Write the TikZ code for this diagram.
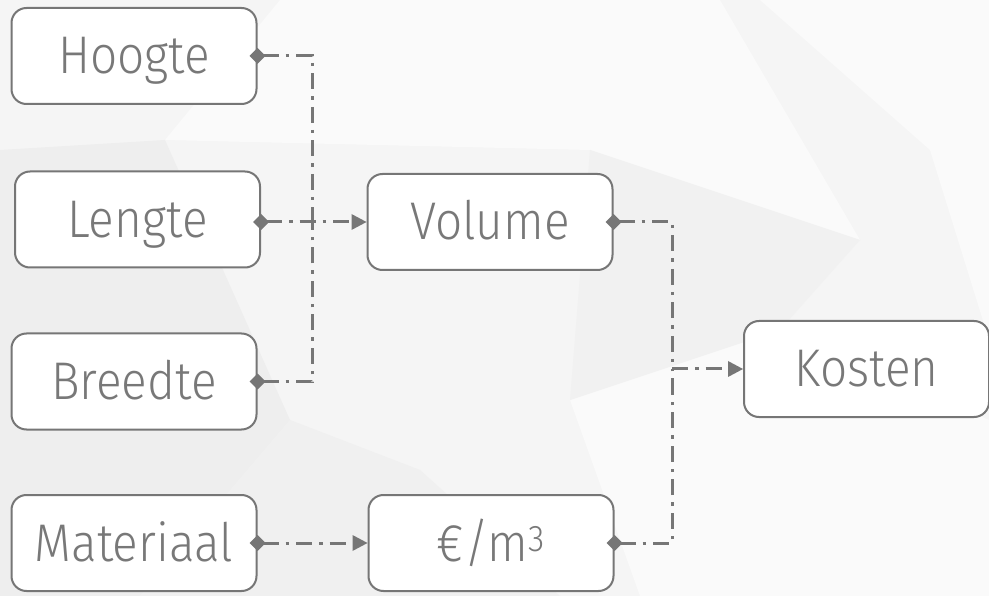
\documentclass[tikz,border=0pt]{standalone}
\usepackage{fontspec}
\setmainfont{Fira Sans Light}[FakeStretch=0.9]
\usetikzlibrary{arrows.meta}
\definecolor{linegray}{HTML}{767676}
\definecolor{txtgray}{HTML}{787878}
\definecolor{bgbase}{HTML}{F5F5F5}
\definecolor{bglight}{HTML}{FAFAFA}
\definecolor{bgdark}{HTML}{EEEEEE}
\tikzset{
  box/.style={draw=linegray, line width=2pt, rounded corners=15pt, fill=white,
    minimum width=245pt, minimum height=96pt, inner sep=0pt,
    text height=36pt, text depth=0pt,
    text=txtgray, font=\fontsize{53pt}{57pt}\selectfont},
  dd/.style={draw=linegray, line width=3pt,
    dash pattern=on 16pt off 7pt on 3.5pt off 7pt},
  tipstart/.style={{Diamond[length=16pt,width=16pt,sep=-8pt,line width=0pt]}-},
  tipend/.style={-{Triangle[length=15pt,width=16pt,line width=0pt]}},
  tipboth/.style={{Diamond[length=16pt,width=16pt,sep=-8pt,line width=0pt]}-{Triangle[length=15pt,width=16pt,line width=0pt]}}
}
\begin{document}
\begin{tikzpicture}[x=1pt,y=-1pt]
\useasboundingbox (0,0) rectangle (989,596);
% background
\fill[bgbase] (0,0) rectangle (989,596);
\fill[bglight] (280,0) -- (720,0) -- (860,240) -- (590,150) -- (165,140) -- cycle;
\fill[bglight] (760,0) -- (989,0) -- (989,340) -- (930,150) -- cycle;
\fill[bgdark] (0,150) -- (165,140) -- (290,420) -- (140,596) -- (0,596) -- cycle;
\fill[bgdark!70!bgbase] (290,420) -- (420,470) -- (560,596) -- (140,596) -- cycle;
\fill[bglight] (570,400) -- (780,330) -- (989,420) -- (989,596) -- (640,596) -- cycle;
\fill[bgdark!60!bgbase] (590,150) -- (860,240) -- (780,330) -- (570,400) -- cycle;
% nodes
\node[box] (hoogte) at (134,56) {Hoogte};
\node[box] (lengte) at (137.5,219.5) {Lengte};
\node[box] (breedte) at (134,381.5) {Breedte};
\node[box] (materiaal) at (134,543) {Materiaal};
\node[box] (volume) at (490,222) {Volume};
\node[box] (prijs) at (491,543) {€/m\textsuperscript{3}};
\node[box] (kosten) at (866.5,369) {Kosten};
% junction coordinates
\coordinate (jv) at (312,222);
\coordinate (jk) at (672,369);
% connectors
\draw[dd,tipstart] (hoogte.east) -| (jv);
\draw[dd,tipstart] (breedte.east) -| (jv);
\draw[dd,tipboth] (lengte.east |- volume.west) -- (volume.west);
\draw[dd,tipboth] (materiaal.east |- prijs.west) -- (prijs.west);
\draw[dd,tipstart] (volume.east) -| (jk);
\draw[dd,tipstart] (prijs.east) -| (jk);
\draw[dd,tipend] (jk) -- (kosten.west);
\end{tikzpicture}
\end{document}
